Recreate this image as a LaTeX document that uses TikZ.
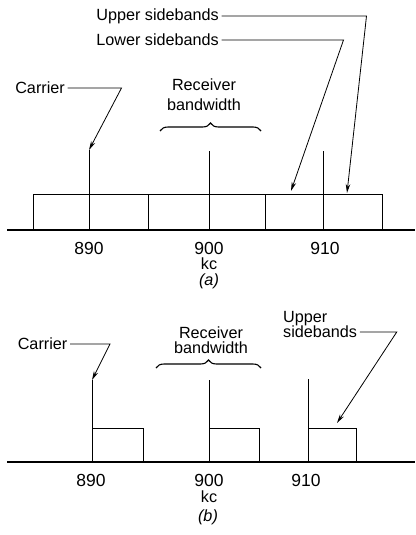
\documentclass[tikz,border=0pt]{standalone}
\usepackage{fontspec}
\setmainfont{Liberation Sans}
\usetikzlibrary{arrows.meta,positioning,decorations.pathreplacing}

\begin{document}
\begin{tikzpicture}[x=1pt,y=1pt,
  lbl/.style={inner xsep=2.5pt,inner ysep=0pt,font=\fontsize{16.2}{20}\selectfont},
  tick/.style={inner sep=0pt,font=\fontsize{17.5}{20}\selectfont},
  pointer/.style={line width=0.8pt,-{Stealth[length=9pt,width=4.5pt]}},
  band/.style={line width=1pt},
  axis/.style={line width=1.8pt},
  bracket/.style={line width=1.1pt,decorate,decoration={brace,amplitude=8pt}}]
\useasboundingbox (0,0) rectangle (415,-535);

% (a) all sidebands pass
\coordinate (carA) at (89,-150);
\coordinate (lowA) at (291,-191);
\coordinate (uppA) at (347,-193);
\draw[band] (33,-194.5) rectangle (148,-230);
\draw[band] (148,-194.5) rectangle (265,-230);
\draw[band] (265,-194.5) rectangle (382,-230);
\draw[band] (carA) -- (89,-230);
\draw[band] (209,-151) -- (209,-230);
\draw[band] (323,-151) -- (323,-230);
\draw[axis] (7,-230) -- (415,-230);
\node[tick] (fa890) at (89,-248) {890};
\node[tick] (fa900) at (209,-248) {900};
\node[tick] (fa910) at (325,-248) {910};
\node[lbl] (kcA) at (209,-264) {kc};
\node[lbl] (capA) at (209,-281) {\textit{(a)}};
\node[lbl,anchor=east] (usbA) at (221.5,-16) {Upper sidebands};
\node[lbl,anchor=east] (lsbA) at (221.5,-40) {Lower sidebands};
\node[lbl,anchor=east] (carrA) at (67.5,-88) {Carrier};
\node[lbl,align=center,font=\fontsize{16.2}{20}\selectfont] (rbwA) at (204,-95) {Receiver\\bandwidth};
\draw[pointer] (usbA.east) -- ++(145,0) -- (uppA);
\draw[pointer] (lsbA.east) -- ++(122,0) -- (lowA);
\draw[pointer] (carrA.east) -- ++(54,0) -- (carA);
\draw[bracket] (160,-131) -- (261,-131);

% (b) upper sidebands only
\coordinate (carB) at (92,-380);
\coordinate (uppB) at (337,-423);
\draw[band] (92,-428) rectangle (143,-462);
\draw[band] (209,-428) rectangle (259,-462);
\draw[band] (308,-428) rectangle (356,-462);
\draw[band] (carB) -- (92,-462);
\draw[band] (209,-380) -- (209,-462);
\draw[band] (308,-379) -- (308,-462);
\draw[axis] (7,-462) -- (415,-462);
\node[tick] (fb890) at (91,-480) {890};
\node[tick] (fb900) at (209,-480) {900};
\node[tick] (fb910) at (306,-480) {910};
\node[lbl] (kcB) at (209,-497) {kc};
\node[lbl] (capB) at (208,-517) {\textit{(b)}};
\node[lbl,anchor=east] (carrB) at (70,-344) {Carrier};
\node[lbl,align=center,font=\fontsize{16.2}{15.5}\selectfont] (rbwB) at (211,-340) {Receiver\\bandwidth};
\node[lbl,anchor=west] (usbB) at (280.5,-332) {sidebands};
\node[lbl,anchor=south west] (upB) at (usbB.north west) {Upper};
\draw[pointer] (carrB.east) -- ++(40,0) -- (carB);
\draw[pointer] (usbB.east) -- ++(37,0) -- (uppB);
\draw[bracket] (156,-368) -- (261,-368);
\end{tikzpicture}
\end{document}
